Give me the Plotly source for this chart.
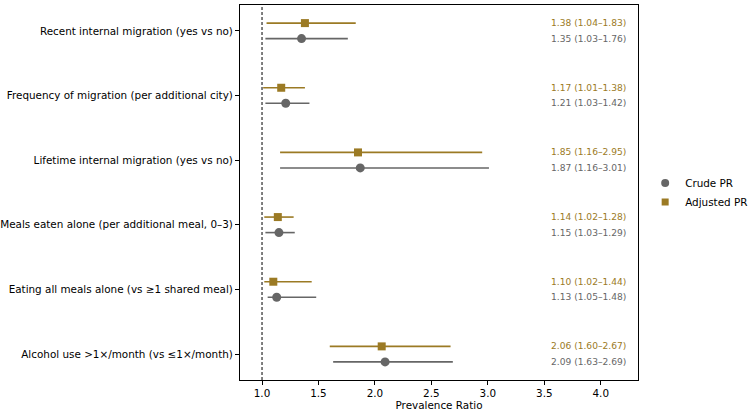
import plotly.graph_objects as go

categories = [
    "Recent internal migration (yes vs no)",
    "Frequency of migration (per additional city)",
    "Lifetime internal migration (yes vs no)",
    "Meals eaten alone (per additional meal, 0–3)",
    "Eating all meals alone (vs ≥1 shared meal)",
    "Alcohol use >1×/month (vs ≤1×/month)",
]
crude_pr = [1.35, 1.21, 1.87, 1.15, 1.13, 2.09]
crude_lo = [1.03, 1.03, 1.16, 1.03, 1.05, 1.63]
crude_hi = [1.76, 1.42, 3.01, 1.29, 1.48, 2.69]
adj_pr = [1.38, 1.17, 1.85, 1.14, 1.10, 2.06]
adj_lo = [1.04, 1.01, 1.16, 1.02, 1.02, 1.60]
adj_hi = [1.83, 1.38, 2.95, 1.28, 1.44, 2.67]
x_ticks = [1.0, 1.5, 2.0, 2.5, 3.0, 3.5, 4.0]

GOLD = "#9b7a24"
GREY = "#666666"
OFF = 0.12
n = len(categories)
ypos = [n - 1 - i for i in range(n)]
XR = [0.805, 4.33]

fig = go.Figure()
fig.add_trace(go.Scatter(
    x=crude_pr, y=[y - OFF for y in ypos], mode="markers",
    marker=dict(symbol="circle", size=9, color=GREY),
    error_x=dict(type="data", symmetric=False,
                 array=[h - p for h, p in zip(crude_hi, crude_pr)],
                 arrayminus=[p - l for p, l in zip(crude_pr, crude_lo)],
                 color=GREY, thickness=1.6, width=0),
    showlegend=False))
fig.add_trace(go.Scatter(
    x=adj_pr, y=[y + OFF for y in ypos], mode="markers",
    marker=dict(symbol="square", size=8, color=GOLD),
    error_x=dict(type="data", symmetric=False,
                 array=[h - p for h, p in zip(adj_hi, adj_pr)],
                 arrayminus=[p - l for p, l in zip(adj_pr, adj_lo)],
                 color=GOLD, thickness=1.6, width=0),
    showlegend=False))
# legend entries
fig.add_trace(go.Scatter(x=[None], y=[None], mode="markers", name="Crude PR",
                         marker=dict(symbol="circle", size=8, color=GREY)))
fig.add_trace(go.Scatter(x=[None], y=[None], mode="markers", name="Adjusted PR",
                         marker=dict(symbol="square", size=7, color=GOLD)))

fig.add_shape(type="line", x0=1.0, x1=1.0, y0=0, y1=1, xref="x", yref="paper",
              line=dict(color="black", width=1, dash="3px,2px"))

tx = 4.24
for i, y in enumerate(ypos):
    fig.add_annotation(x=tx, y=y + OFF, xref="x", yref="y", showarrow=False,
                       xanchor="right", yanchor="middle",
                       text=f"{adj_pr[i]:.2f} ({adj_lo[i]:.2f}–{adj_hi[i]:.2f})",
                       font=dict(color=GOLD, size=9.1))
    fig.add_annotation(x=tx, y=y - OFF, xref="x", yref="y", showarrow=False,
                       xanchor="right", yanchor="middle",
                       text=f"{crude_pr[i]:.2f} ({crude_lo[i]:.2f}–{crude_hi[i]:.2f})",
                       font=dict(color=GREY, size=9.1))

fig.update_layout(
    width=748, height=412,
    margin=dict(l=240, r=110, t=5, b=32, autoexpand=False),
    plot_bgcolor="white", paper_bgcolor="white",
    font=dict(family="DejaVu Sans", size=10.4, color="black"),
    legend=dict(x=1.018, y=0.5, xanchor="left", yanchor="middle",
                font=dict(size=10.4), bgcolor="rgba(0,0,0,0)"),
    xaxis=dict(range=XR, tickvals=x_ticks, ticktext=[f"{t:.1f}" for t in x_ticks],
               showgrid=False, zeroline=False, showline=True, mirror=True,
               linecolor="black", linewidth=1, ticks="outside", ticklen=4,
               tickcolor="black", automargin=False,
               title=dict(text="Prevalence Ratio", standoff=1, font=dict(size=10.4))),
    yaxis=dict(range=[-0.4, n - 1 + 0.4], tickvals=ypos, ticktext=categories,
               showgrid=False, zeroline=False, showline=True, mirror=True,
               linecolor="black", linewidth=1, ticks="outside", ticklen=4,
               tickcolor="black", automargin=False),
)
fig.write_html("out.html")
